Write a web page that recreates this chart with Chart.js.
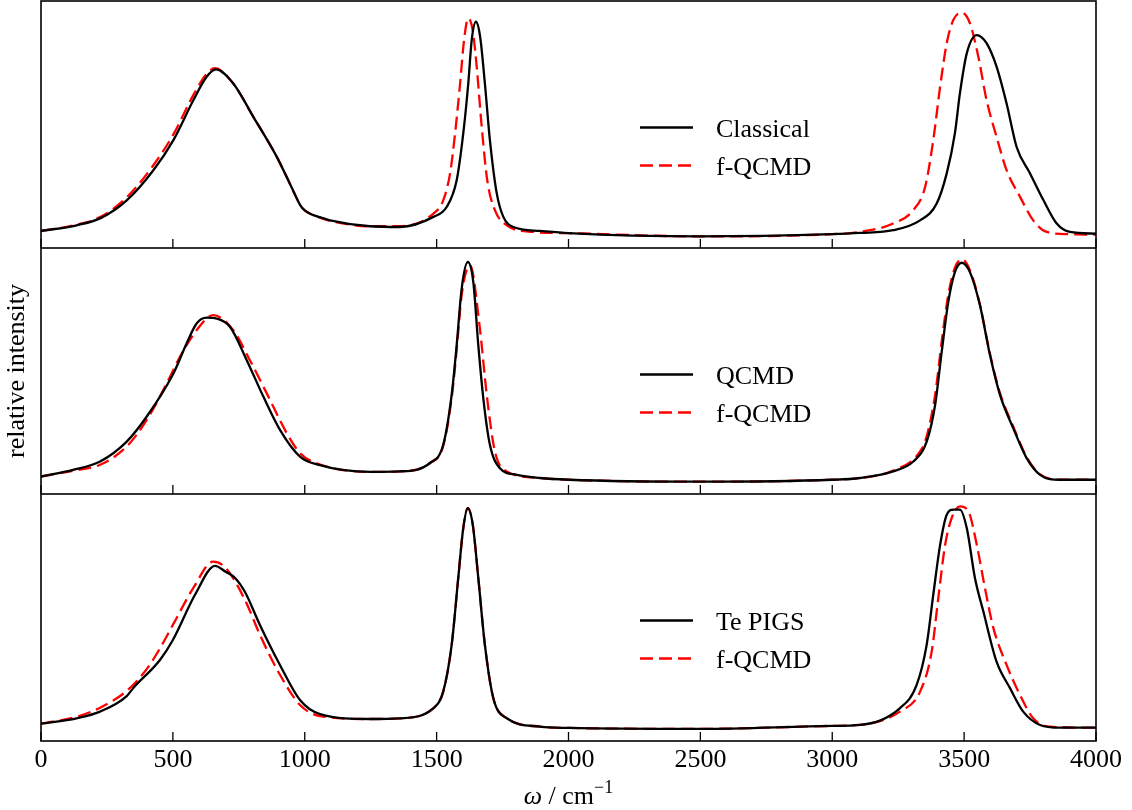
<!DOCTYPE html>
<html lang="en">
<head>
  <meta charset="UTF-8">
  <title>spectra</title>
  <script src="https://cdn.jsdelivr.net/npm/chart.js"></script>
  <style>
    body { margin: 0; background: #fff; }
    #wrap { position: relative; width: 1132px; height: 810px; }
    .panel { position: absolute; left: 0; width: 1132px; }
  </style>
</head>
<body>

<div id="wrap">
  <div class="panel" style="top:0;height:248px"><canvas id="topChart"></canvas></div>
  <div class="panel" style="top:248px;height:246px"><canvas id="midChart"></canvas></div>
  <div class="panel" style="top:494px;height:316px"><canvas id="botChart"></canvas></div>
</div>

<script>
// x ticks (cm^-1)
const xTicks = [0, 500, 1000, 1500, 2000, 2500, 3000, 3500, 4000];

// top panel: Classical vs f-QCMD
const classicalW = [0,135,224,325,426,502,578,628,663,729,805,894,957,982,1000,1030,1060,1096,1247,1361,1488,1538,1576,1601,1620,1633,1649,1665,1683,1702,1728,1753,1791,1892,2000,2500,3000,3105,3231,3333,3396,3434,3465,3484,3510,3548,3585,3623,3661,3699,3750,3801,3851,3901,4000];
const classicalI = [6.9,9.2,12.0,19.3,31.5,43.7,59.9,69.3,72.3,66.6,53.1,36.9,23.0,17.5,15.2,13.4,12.4,11.2,8.8,8.5,12.6,16.6,27.4,46.4,66.6,84.2,91.6,85.5,66.6,43.7,22.1,12.6,8.5,6.9,6.0,4.7,5.6,6.1,7.2,11.2,18.0,30.2,46.4,62.6,78.8,86.2,82.9,73.4,58.5,40.9,30.2,19.3,9.9,6.5,5.8];
const fqcmdTopW = [0,135,224,325,426,502,578,628,660,729,805,894,957,982,1000,1030,1060,1096,1247,1361,1488,1525,1551,1570,1589,1604,1620,1637,1652,1671,1692,1721,1766,1867,2000,2500,3000,3105,3231,3307,3352,3383,3409,3434,3459,3491,3522,3554,3585,3623,3661,3712,3762,3813,3900,4000];
const fqcmdTopI = [6.9,9.4,12.5,20.5,33.5,46.0,62.0,70.5,72.8,66.6,53.1,36.9,23.0,17.5,15.2,13.4,12.2,11.0,8.8,8.8,13.9,19.3,30.2,46.4,66.6,84.2,93.0,88.0,73.4,49.0,27.4,15.3,9.2,6.5,6.0,4.7,5.6,6.5,9.9,15.3,24.7,43.7,65.3,82.9,92.3,95.3,91.0,77.4,59.9,45.0,31.5,20.7,11.2,6.5,5.6,5.4];

// middle panel: QCMD vs f-QCMD
const qcmdW = [0,122,224,325,401,502,552,590,628,666,717,780,843,906,982,1050,1250,1361,1475,1525,1557,1576,1595,1618,1639,1658,1677,1702,1740,1804,1892,2000,2500,3000,3105,3231,3307,3358,3390,3415,3440,3465,3491,3522,3560,3598,3636,3686,3737,3788,3863,4000];
const qcmdI = [7.1,9.8,13.2,21.3,31.5,49.0,61.2,69.3,71.7,71.3,67.9,54.4,39.6,26.1,15.2,11.9,9.0,9.2,12.6,20.0,40.3,60.5,83.5,94.3,86.2,60.5,38.9,20.0,10.5,7.8,6.5,5.8,5.0,5.8,6.5,9.2,13.2,21.3,36.2,57.8,78.1,90.2,94.0,90.2,76.7,56.5,40.3,26.8,14.6,7.8,5.8,5.8];
const fqcmdMidW = [0,122,224,325,401,477,527,590,653,729,792,856,932,982,1050,1250,1361,1475,1525,1557,1576,1595,1627,1664,1690,1721,1766,1892,2000,2500,3000,3105,3231,3333,3358,3390,3415,3440,3465,3491,3522,3560,3598,3636,3686,3737,3788,3863,4000];
const fqcmdMidI = [7.1,9.5,11.9,19.3,30.1,45.0,55.8,66.6,72.7,66.6,54.4,40.9,24.7,16.6,12.3,9.0,9.2,12.6,19.5,39.0,58.5,81.0,92.9,67.3,40.3,17.3,9.2,6.5,5.8,5.0,5.8,6.5,9.5,17.3,23.5,40.3,62.0,81.0,92.0,95.4,91.0,77.0,57.0,41.0,27.5,15.0,8.0,5.8,5.8];

// bottom panel: Te PIGS vs f-QCMD
const pigsW = [0,135,224,325,350,451,500,584,660,700,735,773,830,906,982,1058,1247,1361,1488,1525,1557,1582,1601,1618,1637,1658,1683,1715,1766,1892,2000,2500,3000,3105,3257,3320,3358,3383,3409,3434,3459,3484,3510,3541,3573,3623,3674,3724,3788,3863,4000];
const pigsI = [7.0,9.2,11.9,18.2,21.5,32.8,40.9,59.2,70.9,68.5,66.1,60.4,47.0,30.8,16.6,10.9,8.9,9.2,13.3,20.0,38.9,66.0,86.2,94.3,87.6,66.0,38.9,17.3,9.2,5.8,5.3,4.9,6.1,6.5,13.3,22.7,38.9,59.2,79.4,91.6,93.7,93.7,86.2,66.0,52.4,32.1,21.4,11.9,6.5,5.4,5.4];
const fqcmdBotW = [0,135,224,325,400,451,500,580,652,700,773,830,906,982,1058,1247,1361,1488,1525,1557,1582,1601,1618,1637,1658,1683,1715,1766,1892,2000,2500,3000,3105,3257,3333,3377,3402,3428,3453,3484,3516,3548,3579,3611,3661,3712,3762,3826,4000];
const fqcmdBotI = [7.0,9.8,13.5,20.3,29.0,37.5,47.0,62.4,72.6,70.1,57.2,43.0,26.8,14.6,10.1,8.9,9.2,13.3,20.0,38.9,66.0,86.2,94.3,87.6,66.0,38.9,17.3,9.2,5.8,5.3,4.9,6.1,6.5,11.9,20.0,36.2,57.8,79.4,90.3,95.0,93.0,79.4,61.9,45.7,30.8,18.6,9.2,5.8,5.4];

const SERIF = '"Liberation Serif", "DejaVu Serif", serif';
Chart.defaults.font.family = SERIF;
Chart.defaults.color = '#000';

function pts(w, v) {
  return w.map((x, i) => ({ x: x, y: v[i] }));
}

function solid(label, w, v) {
  return { label: label, data: pts(w, v), borderColor: '#000000', borderWidth: 2.3,
           pointRadius: 0, cubicInterpolationMode: 'monotone', fill: false };
}

function dashed(label, w, v) {
  return { label: label, data: pts(w, v), borderColor: '#ff0000', borderWidth: 2.3,
           borderDash: [13, 6], pointRadius: 0, cubicInterpolationMode: 'monotone', fill: false };
}

// frame, inward ticks and the in-panel legend
const decoPlugin = {
  id: 'deco',
  afterDatasetsDraw(chart) {
    const ctx = chart.ctx;
    const a = chart.chartArea;
    const xs = chart.scales.x;
    ctx.save();
    ctx.strokeStyle = '#000';
    ctx.lineWidth = 1.6;
    ctx.strokeRect(a.left, a.top, a.right - a.left, a.bottom - a.top);
    ctx.lineWidth = 1.3;
    xTicks.forEach(v => {
      const px = xs.getPixelForValue(v);
      ctx.beginPath();
      ctx.moveTo(px, a.bottom);
      ctx.lineTo(px, a.bottom - 9);
      ctx.stroke();
    });
    chart.data.datasets.forEach((ds, i) => {
      const y = a.top + 126.5 + i * 38;
      ctx.strokeStyle = ds.borderColor;
      ctx.lineWidth = ds.borderWidth;
      ctx.setLineDash(ds.borderDash || []);
      ctx.beginPath();
      ctx.moveTo(a.left + 599, y);
      ctx.lineTo(a.left + 652, y);
      ctx.stroke();
      ctx.setLineDash([]);
      ctx.fillStyle = '#000';
      ctx.font = '26px ' + SERIF;
      ctx.textBaseline = 'alphabetic';
      ctx.textAlign = 'left';
      ctx.fillText(ds.label, a.left + 675, y + 9);
    });
    ctx.restore();
  }
};

// x axis title with italic omega and superscript
const xTitlePlugin = {
  id: 'xTitle',
  afterDraw(chart) {
    const ctx = chart.ctx;
    const a = chart.chartArea;
    const base = a.bottom + 63;
    const parts = [
      { t: 'ω', f: 'italic 26px ' + SERIF, dy: 0 },
      { t: ' / cm', f: '26px ' + SERIF, dy: 0 },
      { t: '−1', f: '18px ' + SERIF, dy: -11 }
    ];
    ctx.save();
    let total = 0;
    parts.forEach(p => { ctx.font = p.f; p.w = ctx.measureText(p.t).width; total += p.w; });
    let x = (a.left + a.right) / 2 - total / 2;
    ctx.fillStyle = '#000';
    ctx.textBaseline = 'alphabetic';
    ctx.textAlign = 'left';
    parts.forEach(p => { ctx.font = p.f; ctx.fillText(p.t, x, base + p.dy); x += p.w; });
    ctx.restore();
  }
};

function makeChart(id, datasets, opts) {
  const xScale = { type: 'linear', min: 0, max: 4000, display: false };
  const yScale = { type: 'linear', min: 0, max: 100, display: false };
  if (opts.xAxis) {
    Object.assign(xScale, {
      display: true,
      grid: { display: false, drawTicks: false },
      border: { display: false },
      ticks: { stepSize: 500, autoSkip: false, maxRotation: 0, padding: 4,
               font: { size: 26, family: SERIF }, color: '#000',
               callback: v => String(v) },
      afterFit: s => { s.height = 69; }
    });
  }
  if (opts.yTitle) {
    Object.assign(yScale, {
      display: true,
      grid: { display: false, drawTicks: false },
      border: { display: false },
      ticks: { display: false },
      title: { display: true, text: opts.yTitle, font: { size: 26, family: SERIF }, color: '#000',
               padding: { top: 2, bottom: 0 } },
      afterFit: s => { s.width = 41; }
    });
  }
  return new Chart(document.getElementById(id), {
    type: 'line',
    data: { datasets: datasets },
    options: {
      responsive: true,
      maintainAspectRatio: false,
      animation: false,
      layout: { padding: { left: opts.yTitle ? 0 : 41, right: 36, top: opts.top || 0, bottom: 0 } },
      scales: { x: xScale, y: yScale },
      plugins: { legend: { display: false }, tooltip: { enabled: false } }
    },
    plugins: opts.xAxis ? [decoPlugin, xTitlePlugin] : [decoPlugin]
  });
}

makeChart('topChart', [
  solid('Classical', classicalW, classicalI),
  dashed('f-QCMD', fqcmdTopW, fqcmdTopI)
], { top: 1 });

makeChart('midChart', [
  solid('QCMD', qcmdW, qcmdI),
  dashed('f-QCMD', fqcmdMidW, fqcmdMidI)
], { yTitle: 'relative intensity' });

makeChart('botChart', [
  solid('Te PIGS', pigsW, pigsI),
  dashed('f-QCMD', fqcmdBotW, fqcmdBotI)
], { xAxis: true });
</script>

</body>
</html>
